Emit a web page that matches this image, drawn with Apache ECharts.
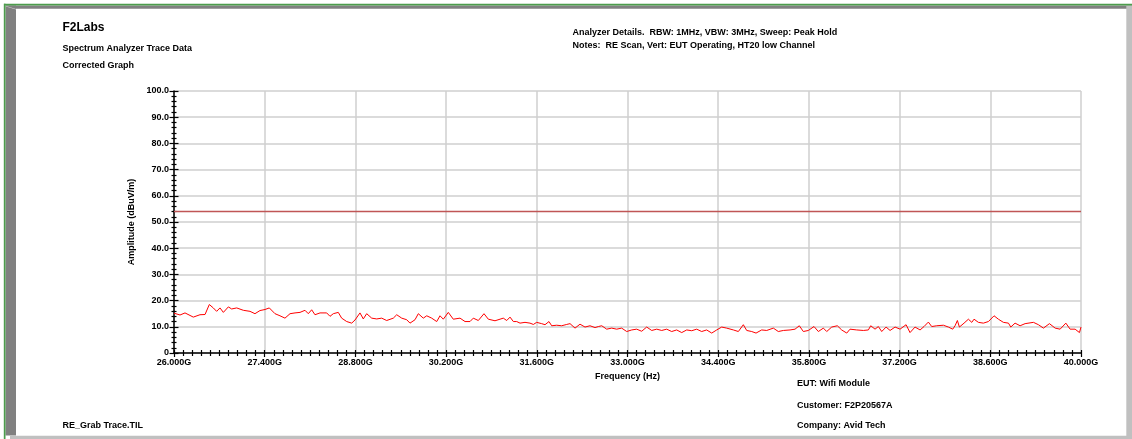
<!DOCTYPE html>
<html>
<head>
<meta charset="utf-8">
<script src="https://cdn.jsdelivr.net/npm/echarts@6/dist/echarts.min.js"></script>
<style>
html,body{margin:0;padding:0;background:#fff;}
#c{width:1132px;height:439px;}
</style>
</head>
<body>
<div id="c"></div>
<script>
// ---- data ----
var freqStartGHz = 26.0;
var freqEndGHz = 40.0;
var freqStepGHz = 1.4;
var ampMin = 0, ampMax = 100, ampStep = 10;
var limitAmp = 54;

var traceFreqGHz = [
26.000,26.015,26.093,26.170,26.196,26.298,26.401,26.479,26.545,26.607,26.658,26.710,26.762,26.839,26.890,26.968,
27.070,27.173,27.250,27.327,27.405,27.471,27.559,27.636,27.713,27.791,27.868,27.945,28.022,28.073,28.125,28.176,
28.254,28.357,28.408,28.459,28.536,28.588,28.666,28.743,28.794,28.871,28.922,28.974,29.052,29.129,29.206,29.283,
29.385,29.438,29.515,29.592,29.643,29.720,29.771,29.848,29.901,29.978,30.055,30.106,30.157,30.234,30.311,30.415,
30.492,30.569,30.620,30.697,30.785,30.852,
30.878,30.955,31.032,31.083,31.136,31.187,31.238,31.290,31.341,31.418,31.495,31.547,31.598,31.675,31.727,31.788,
31.830,31.907,31.984,32.062,32.113,32.190,32.267,32.344,32.421,32.499,32.550,32.602,32.679,32.756,32.833,32.910,
32.988,33.065,33.142,33.219,33.296,33.374,33.451,33.528,33.605,33.682,33.759,33.837,33.914,33.991,34.068,34.145,
34.222,34.300,34.377,34.454,34.531,34.634,34.711,34.788,34.840,34.917,34.984,35.071,35.149,35.251,35.328,35.406,
35.509,35.586,35.652,35.714,35.792,
35.817,35.879,35.946,36.023,36.075,36.152,36.239,36.306,36.384,36.435,36.538,36.641,36.718,36.754,36.821,36.872,
36.924,36.991,37.053,37.130,37.207,37.300,37.361,37.438,37.516,37.577,37.644,37.696,37.773,37.876,37.953,38.020,
38.056,38.092,38.123,38.195,38.262,38.314,38.349,38.416,38.493,38.571,38.658,38.725,38.802,38.880,38.916,38.982,
39.060,39.137,39.266,39.343,39.420,39.513,39.601,39.678,39.766,39.832,39.909,39.976,40.000
];
var traceAmp = [
15.2,15.5,14.5,15.3,15.0,13.7,14.6,14.7,18.5,17.2,15.9,17.2,15.5,17.6,16.8,17.2,
16.3,15.9,15.0,16.2,16.6,17.2,15.0,14.2,13.3,15.0,15.3,15.5,16.3,15.0,16.5,14.6,
15.3,15.3,14.0,15.0,15.5,13.3,12.0,11.4,12.6,15.3,13.0,15.0,13.3,13.0,13.3,12.4,
13.3,14.6,13.3,12.7,11.4,12.7,15.0,13.3,14.2,13.3,12.0,14.2,12.9,15.5,12.9,13.3,
12.0,12.0,13.3,12.4,15.0,12.9,
12.7,12.3,12.9,13.3,12.4,13.7,12.0,12.0,11.4,11.7,11.4,10.9,11.7,11.2,10.8,12.0,
10.4,10.6,10.4,10.9,11.2,9.5,11.0,9.9,10.4,9.7,10.1,10.4,9.1,9.5,9.1,9.5,
8.2,8.8,9.1,8.3,9.9,8.6,9.1,8.6,9.1,8.2,8.8,7.8,8.8,8.5,9.1,8.2,
8.8,7.6,8.8,9.9,9.5,8.8,8.2,10.8,8.6,8.2,7.6,8.8,8.6,9.5,8.2,8.6,
8.8,9.1,10.4,8.2,8.6,
8.8,10.1,8.2,9.5,8.2,9.9,10.4,8.8,7.6,9.1,8.8,8.6,8.8,10.4,9.1,10.1,
8.2,9.9,8.6,9.9,9.1,10.8,7.8,9.9,8.8,10.1,11.8,10.1,10.4,10.6,9.9,9.1,
10.4,12.4,9.9,11.4,12.9,11.7,12.9,11.7,11.4,12.0,14.2,12.9,11.7,11.4,9.9,11.4,
10.4,11.2,11.7,10.8,9.5,11.2,9.5,9.1,11.4,9.1,9.1,7.8,9.9
];

var headerLeft = ['F2Labs', 'Spectrum Analyzer Trace Data', 'Corrected Graph'];
var headerRight = ['Analyzer Details.  RBW: 1MHz, VBW: 3MHz, Sweep: Peak Hold',
                   'Notes:  RE Scan, Vert: EUT Operating, HT20 low Channel'];
var footerRight = ['EUT: Wifi Module', 'Customer: F2P20567A', 'Company: Avid Tech'];
var footerLeft = 'RE_Grab Trace.TIL';
var xAxisName = 'Frequency (Hz)';
var yAxisName = 'Amplitude (dBuV/m)';

// ---- chart ----
var FONT = '"Liberation Sans", Arial, sans-serif';
var traceData = traceFreqGHz.map(function (f, i) { return [f - freqStartGHz, traceAmp[i]]; });
var limitData = [[0, limitAmp], [freqEndGHz - freqStartGHz, limitAmp]];

function txt(t, x, y, size) {
  return { type: 'text', x: x, y: y, z: 10, silent: true,
    style: { text: t, fill: '#000', font: 'bold ' + size + 'px ' + FONT, textVerticalAlign: 'top' } };
}

var xBase = {
  type: 'value', min: 0, max: freqEndGHz - freqStartGHz, interval: freqStepGHz,
  gridIndex: 0
};
var yBase = { type: 'value', min: ampMin, max: ampMax, interval: ampStep, gridIndex: 0 };

var option = {
  animation: false,
  backgroundColor: '#ffffff',
  grid: { left: 174, right: 51, top: 91, bottom: 86, containLabel: false },
  xAxis: [
    Object.assign({}, xBase, {
      position: 'bottom',
      name: xAxisName, nameLocation: 'middle', nameGap: 19,
      nameTextStyle: { color: '#000', fontWeight: 'bold', fontSize: 9, fontFamily: FONT },
      axisLine: { show: true, lineStyle: { color: '#000', width: 1.5 } },
      axisTick: { show: true, inside: false, length: 4, lineStyle: { color: '#000', width: 1.2 } },
      minorTick: { show: true, splitNumber: 10, length: 3, lineStyle: { color: '#000', width: 1.2 } },
      axisLabel: { color: '#000', fontWeight: 'bold', fontSize: 9, fontFamily: FONT, margin: 5,
        formatter: function (v) { return (v + freqStartGHz).toFixed(3) + 'G'; } },
      splitLine: { show: true, lineStyle: { color: '#cfcfcf', width: 1.5 } }
    }),
    Object.assign({}, xBase, {
      position: 'bottom', offset: 0,
      axisLine: { show: false },
      axisTick: { show: true, inside: true, length: 3, lineStyle: { color: '#000', width: 1.2 } },
      minorTick: { show: true, splitNumber: 10, length: 3, lineStyle: { color: '#000', width: 1.2 } },
      axisLabel: { show: false },
      splitLine: { show: false }
    })
  ],
  yAxis: [
    Object.assign({}, yBase, {
      position: 'left',
      name: yAxisName, nameLocation: 'middle', nameGap: 32, nameRotate: 90,
      nameTextStyle: { color: '#000', fontWeight: 'bold', fontSize: 9, fontFamily: FONT },
      axisLine: { show: true, lineStyle: { color: '#000', width: 1.5 } },
      axisTick: { show: true, inside: false, length: 4.5, lineStyle: { color: '#000', width: 1.2 } },
      minorTick: { show: true, splitNumber: 5, length: 2.5, lineStyle: { color: '#000', width: 1.2 } },
      axisLabel: { color: '#000', fontWeight: 'bold', fontSize: 9, fontFamily: FONT, margin: 5,
        formatter: function (v) { return v === 0 ? '0' : v.toFixed(1); } },
      splitLine: { show: true, lineStyle: { color: '#cfcfcf', width: 1.5 } }
    }),
    Object.assign({}, yBase, {
      position: 'left', offset: 0,
      axisLine: { show: false },
      axisTick: { show: true, inside: true, length: 4.5, lineStyle: { color: '#000', width: 1.2 } },
      minorTick: { show: true, splitNumber: 5, length: 2.5, lineStyle: { color: '#000', width: 1.2 } },
      axisLabel: { show: false },
      splitLine: { show: false }
    })
  ],
  series: [
    { type: 'line', data: limitData, xAxisIndex: 0, yAxisIndex: 0, symbol: 'none',
      lineStyle: { color: '#c05656', width: 1.6 }, silent: true, z: 3 },
    { type: 'line', data: traceData, xAxisIndex: 0, yAxisIndex: 0, symbol: 'none',
      lineStyle: { color: '#ff0000', width: 1 }, silent: true, z: 4 }
  ],
  graphic: [
    // frame
    { type: 'rect', silent: true, z: 1, shape: { x: 6, y: 5.5, width: 1126, height: 3.3 }, style: { fill: '#808080' } },
    { type: 'rect', silent: true, z: 1, shape: { x: 5.5, y: 5.5, width: 10.5, height: 430 }, style: { fill: '#808080' } },
    { type: 'polygon', silent: true, z: 2, shape: { points: [[6, 6], [16, 9], [16, 9.6], [6, 6.6]] }, style: { fill: '#d8d8d8' } },
    { type: 'rect', silent: true, z: 1, shape: { x: 1126.3, y: 6, width: 6, height: 433 }, style: { fill: '#c0c0c0' } },
    { type: 'rect', silent: true, z: 1, shape: { x: 10, y: 435.8, width: 1122, height: 4 }, style: { fill: '#c0c0c0' } },
    { type: 'rect', silent: true, z: 2, shape: { x: 4, y: 3.8, width: 1128, height: 1.7 }, style: { fill: '#4c9c4c' } },
    { type: 'rect', silent: true, z: 2, shape: { x: 3.8, y: 3.8, width: 1.7, height: 436 }, style: { fill: '#4c9c4c' } },
    // texts
    txt(headerLeft[0], 62.5, 21.5, 12),
    txt(headerLeft[1], 62.5, 44, 9),
    txt(headerLeft[2], 62.5, 61, 9),
    txt(headerRight[0], 572.5, 28, 9),
    txt(headerRight[1], 572.5, 41, 9),
    txt(footerRight[0], 797, 379, 9),
    txt(footerRight[1], 797, 401, 9),
    txt(footerRight[2], 797, 421, 9),
    txt(footerLeft, 62.5, 421, 9)
  ]
};

var chart = echarts.init(document.getElementById('c'), null, { renderer: 'canvas' });
chart.setOption(option);
</script>
</body>
</html>
